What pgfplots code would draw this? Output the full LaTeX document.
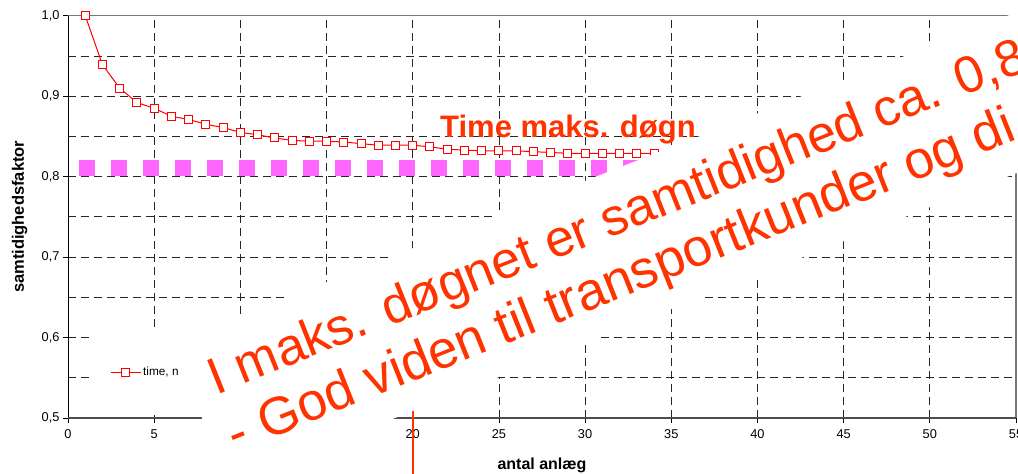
\documentclass[border=0pt]{standalone}
\usepackage{pgfplots}
\pgfplotsset{compat=1.18}
\usepackage{fontspec}
\setmainfont{Liberation Sans}
\definecolor{ann}{RGB}{255,51,0}
\definecolor{pinkdash}{RGB}{255,102,255}
\definecolor{border}{RGB}{120,120,120}
\begin{document}
\begin{tikzpicture}
\useasboundingbox (0,0) rectangle (1018pt,474pt);
\begin{axis}[
  at={(68pt,56pt)}, anchor=south west,
  scale only axis, width=948pt, height=402.3pt,
  xmin=0, xmax=55, ymin=0.5, ymax=1.0,
  xtick={0,5,...,55},
  ytick={0.5,0.6,...,1.01},
  minor ytick={0.55,0.65,0.75,0.85,0.95},
  minor tick length=0pt,
  grid=both,
  major grid style={black!85, line width=0.7pt, dash pattern=on 8pt off 5pt},
  minor grid style={black!85, line width=0.7pt, dash pattern=on 8pt off 5pt},
  axis line style={draw=none},
  tick align=outside, major tick length=5pt,
  tick style={black, line width=0.7pt},
  xtick pos=bottom, ytick pos=left,
  /pgf/number format/assume math mode=true,
  yticklabel style={/pgf/number format/.cd, use comma, fixed, fixed zerofill, precision=1},
  ticklabel style={font=\fontsize{12.8}{14}\selectfont, black},
  xticklabel style={yshift=-3pt},
  xlabel={antal anlæg},
  ylabel={samtidighedsfaktor},
  xlabel style={at={(axis description cs:0.5,0)}, anchor=base, yshift=-52pt, font=\fontsize{16}{18}\selectfont\bfseries},
  ylabel style={at={(axis description cs:0,0.5)}, anchor=base, yshift=44pt, font=\fontsize{16.5}{18}\selectfont\bfseries},
  legend style={at={(0.0253,0.1143)}, anchor=west, fill=white, draw=none,
    inner xsep=18pt, inner ysep=36pt, font=\fontsize{11.8}{13}\selectfont},
  legend image code/.code={\draw[mark repeat=2, mark phase=2] plot coordinates {(0pt,0pt) (15pt,0pt) (30pt,0pt)};},
  clip=false,
]
\addplot[pinkdash, line width=16pt, dash pattern=on 16pt off 16pt, forget plot]
  coordinates {(0.656,0.811) (36,0.811)};
\addplot[red, line width=1pt, mark=square*, mark size=4pt, mark options={fill=white, draw=red, line width=1pt}]
  coordinates {
  (1,1.000) (2,0.939) (3,0.910) (4,0.892) (5,0.885) (6,0.875) (7,0.871) (8,0.865)
  (9,0.861) (10,0.855) (11,0.852) (12,0.848) (13,0.845) (14,0.844) (15,0.844)
  (16,0.843) (17,0.841) (18,0.839) (19,0.839) (20,0.839) (21,0.837) (22,0.834)
  (23,0.833) (24,0.832) (25,0.832) (26,0.832) (27,0.831) (28,0.830) (29,0.829)
  (30,0.829) (31,0.829) (32,0.829) (33,0.829) (34,0.829) (35,0.828)};
\addlegendentry{time, n}
\draw[black, line width=0.9pt] (rel axis cs:0,0) -- (rel axis cs:0,1);
\draw[border, line width=1.6pt] (rel axis cs:0,1) -- (rel axis cs:1,1) -- (rel axis cs:1,0);
\draw[black!70, line width=2pt] (rel axis cs:0,0) -- (rel axis cs:1,0);
\end{axis}
% red marker line
\draw[ann, line width=2pt] (413pt,0pt) -- (413pt,200pt);
% white cover behind the rotated text
\fill[white] (172pt,131.6pt) -- (1100pt,494.4pt) -- (1100pt,333.8pt) -- (228pt,-9.8pt) -- cycle;
\node[ann, anchor=base west, inner sep=0pt, rotate=21.8, font=\fontsize{51.8}{60}\selectfont]
  at (216.1pt,78.6pt) {I maks. døgnet er samtidighed ca. 0,8};
\node[ann, anchor=base west, inner sep=0pt, rotate=21.8, font=\fontsize{53}{60}\selectfont]
  at (235.8pt,21.7pt) {- God viden til transportkunder og di};
\node[ann, anchor=base west, inner sep=0pt, font=\fontsize{31}{36}\selectfont\bfseries]
  at (440pt,336pt) {Time maks. døgn};
\end{tikzpicture}
\end{document}
